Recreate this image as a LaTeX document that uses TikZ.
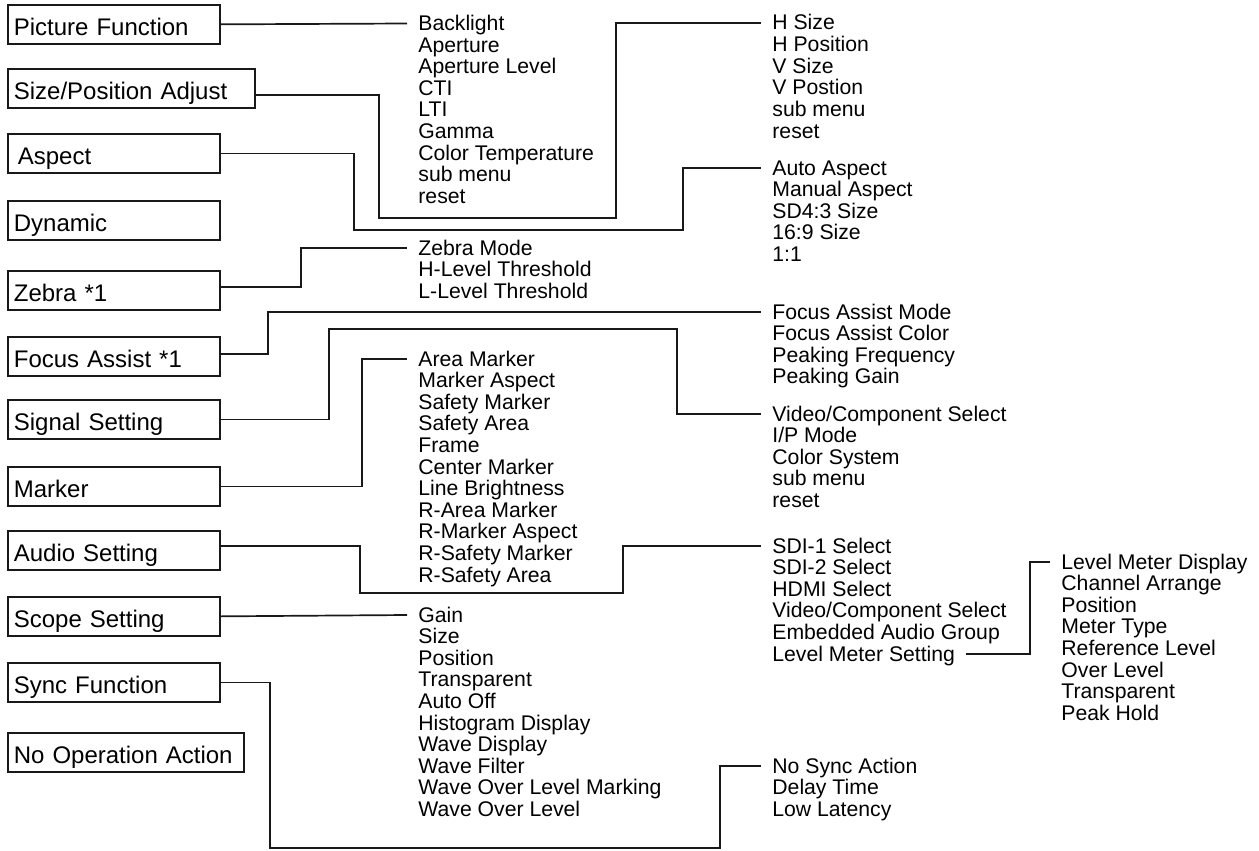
\documentclass[tikz,border=0pt]{standalone}
\usepackage{fontspec}
\setmainfont{Liberation Sans}
\usepackage{tikz}
\usetikzlibrary{positioning}

\begin{document}
\begin{tikzpicture}[
  x=0.5pt, y=-0.5pt,
  menu/.style = {draw=black!90, line width=0.85pt, anchor=north west,
                 font=\fontsize{12}{14}\selectfont, align=left,
                 inner xsep=3pt, inner ysep=0pt,
                 text height=15.5pt, text depth=4pt},
  item/.style = {anchor=west, font=\fontsize{10.6}{12}\selectfont,
                 inner xsep=5.5pt, inner ysep=0pt,
                 text height=8pt, text depth=1pt},
  link/.style = {draw=black!90, line width=0.85pt},
]
\useasboundingbox (0,0) rectangle (1259,851);

% main menu column
\foreach \id/\txt/\top/\tw in {
  pic/{Picture Function}/4/100pt,
  size/{Size/Position Adjust}/68/117.5pt,
  asp/{\,Aspect}/133/100pt,
  dyn/{Dynamic}/200/100pt,
  zeb/{Zebra *1}/270/100pt,
  foc/{Focus Assist *1}/336/100pt,
  sig/{Signal Setting}/399/100pt,
  mrk/{Marker}/466/100pt,
  aud/{Audio Setting}/530/100pt,
  scp/{Scope Setting}/596/100pt,
  syn/{Sync Function}/662/100pt,
  noop/{No Operation Action}/732/112pt}
  \node[menu, text width=\tw] (\id) at (7,\top) {\txt};

% sub menus, one line per node
\foreach \id/\x/\y/\list in {
  pf/407/23.5/{Backlight,Aperture,Aperture Level,CTI,LTI,Gamma,Color Temperature,sub menu,reset},
  sp/761/23/{H Size,H Position,V Size,V Postion,sub menu,reset},
  as/761/168/{Auto Aspect,Manual Aspect,SD4:3 Size,16:9 Size,1:1},
  zb/407/248/{Zebra Mode,H-Level Threshold,L-Level Threshold},
  fa/761/312/{Focus Assist Mode,Focus Assist Color,Peaking Frequency,Peaking Gain},
  sg/761/414/{Video/Component Select,I/P Mode,Color System,sub menu,reset},
  mk/407/359/{Area Marker,Marker Aspect,Safety Marker,Safety Area,Frame,Center Marker,Line Brightness,R-Area Marker,R-Marker Aspect,R-Safety Marker,R-Safety Area},
  au/761/546/{SDI-1 Select,SDI-2 Select,HDMI Select,Video/Component Select,Embedded Audio Group,Level Meter Setting},
  lm/1050/562/{Level Meter Display,Channel Arrange,Position,Meter Type,Reference Level,Over Level,Transparent,Peak Hold},
  sc/407/615/{Gain,Size,Position,Transparent,Auto Off,Histogram Display,Wave Display,Wave Filter,Wave Over Level Marking,Wave Over Level},
  sy/761/766/{No Sync Action,Delay Time,Low Latency}}
  \foreach \t [count=\k] in \list
    \node[item] (\id-\k) at (\x,\y+21.6*\k-21.6) {\t};

% connectors
\draw[link] (pic.east) -- (pf-1.west);
\draw[link] ([yshift=-3.25pt]size.east) -| (379,218) -| (616,23) -- (sp-1.west);
\draw[link] (asp.east) -| (354,230) -| (683,168) -- (as-1.west);
\draw[link] ([yshift=1.75pt]zeb.east) -| (301,248) -- (zb-1.west);
\draw[link] ([yshift=1.25pt]foc.east) -| (268,312) -- (fa-1.west);
\draw[link] (sig.east) -| (329,329) -| (677,414) -- (sg-1.west);
\draw[link] (mrk.east) -| (362,359) -- (mk-1.west);
\draw[link] ([yshift=2.25pt]aud.east) -| (360,593) -| (623,546) -- (au-1.west);
\draw[link] (scp.east) -- (sc-1.west);
\draw[link] (syn.east) -| (270,848) -| (720,766) -- (sy-1.west);
\draw[link] (au-6.east) -| (1030,562) -- (lm-1.west);
\end{tikzpicture}
\end{document}
